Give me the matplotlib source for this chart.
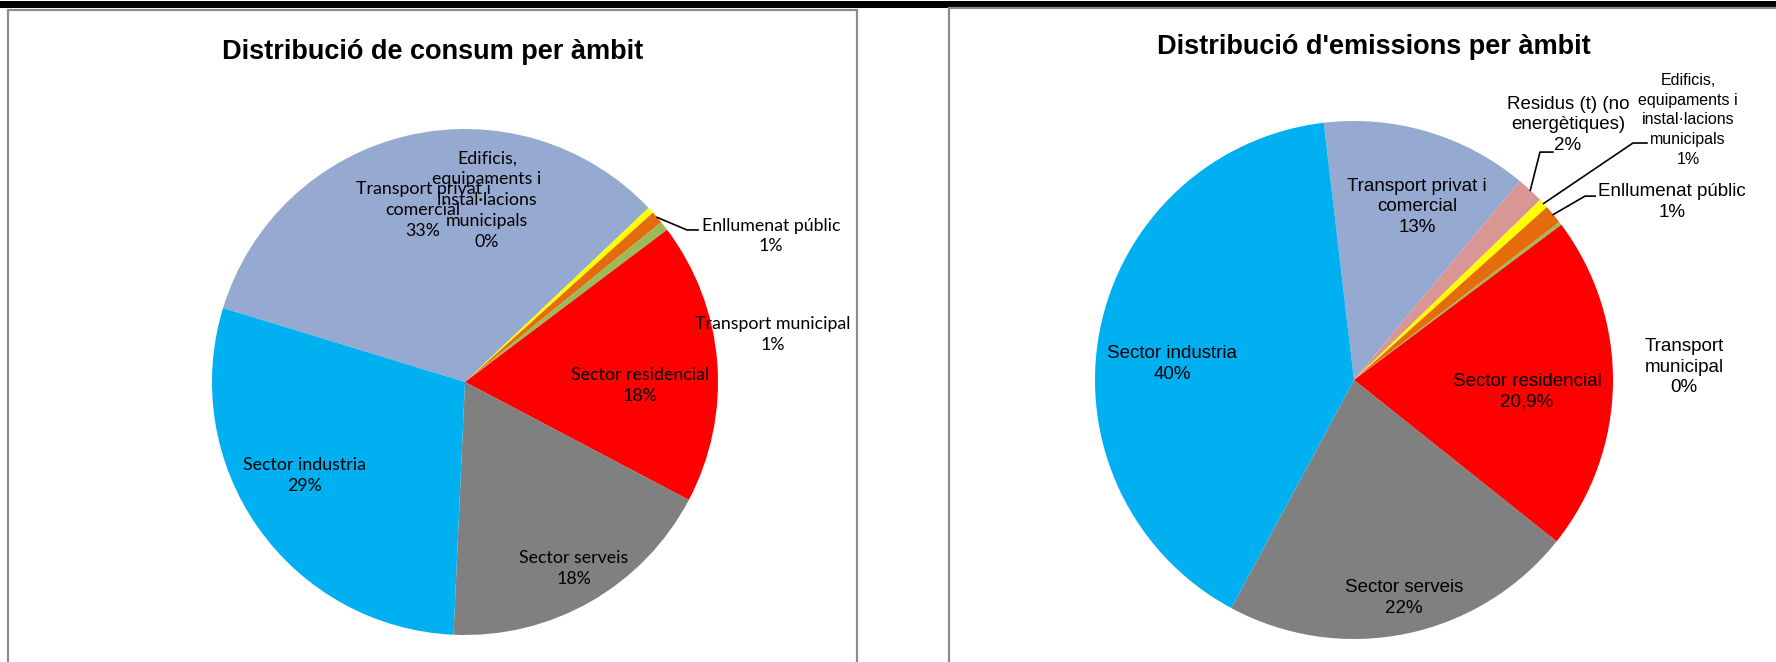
import matplotlib
matplotlib.use("Agg")
import matplotlib.pyplot as plt
import numpy as np
from matplotlib.patches import Rectangle
from matplotlib.lines import Line2D

# canvas in pixels
W, H = 1776, 662

# --- data ---
consum_labels = ["Transport privat i\ncomercial", "Edificis,\nequipaments i\ninstal·lacions\nmunicipals",
                 "Enllumenat públic", "Transport municipal", "Sector residencial",
                 "Sector serveis", "Sector industria"]
consum_values = [33.2, 0.4, 0.8, 0.6, 18.0, 18.0, 29.0]
consum_pct = ["33%", "0%", "1%", "1%", "18%", "18%", "29%"]
consum_colors = ["#95A9D1", "#FFFF00", "#E46C0A", "#9BBB59", "#FF0000", "#808080", "#00B0F0"]

emis_labels = ["Transport privat i\ncomercial", "Residus (t) (no\nenergètiques)",
               "Edificis,\nequipaments i\ninstal·lacions\nmunicipals", "Enllumenat públic",
               "Transport\nmunicipal", "Sector residencial", "Sector serveis", "Sector industria"]
emis_values = [12.9, 1.7, 0.6, 1.2, 0.2, 20.9, 22.1, 40.2]
emis_pct = ["13%", "2%", "1%", "1%", "0%", "20,9%", "22%", "40%"]
emis_colors = ["#95A9D1", "#D99694", "#FFFF00", "#E46C0A", "#9BBB59", "#FF0000", "#808080", "#00B0F0"]

fig = plt.figure(figsize=(W / 100, H / 100), dpi=100)

# page decorations: black rule on top and the two chart frames
fig.add_artist(Rectangle((0, (H - 8) / H), 1, 7 / H, transform=fig.transFigure,
                         facecolor="black", edgecolor="none"))
fig.add_artist(Rectangle((8 / W, -0.05), (857 - 8) / W, (H - 10) / H + 0.05, transform=fig.transFigure,
                         fill=False, edgecolor="#8C8C8C", lw=1.6))
fig.add_artist(Rectangle((949 / W, -0.05), 0.5, (H - 8) / H + 0.05, transform=fig.transFigure,
                         fill=False, edgecolor="#8C8C8C", lw=1.6))


def pie_axes(cx, cy, r):
    return fig.add_axes([(cx - r) / W, (H - cy - r) / H, 2 * r / W, 2 * r / H])


def draw_pie(ax, values, colors, start):
    wedges, _ = ax.pie(values, colors=colors, startangle=start, counterclock=False,
                       radius=1, wedgeprops=dict(linewidth=0))
    ax.set_xlim(-1, 1)
    ax.set_ylim(-1, 1)
    ax.axis("off")
    return wedges


def leader(ax, wedge, bend, tip):
    a = np.deg2rad((wedge.theta1 + wedge.theta2) / 2)
    xs = [np.cos(a), bend[0], tip[0]]
    ys = [np.sin(a), bend[1], tip[1]]
    ax.add_line(Line2D(xs, ys, color="black", lw=1.2, clip_on=False))


# ---- left chart: consum ----
axL = pie_axes(465, 382, 253)
wL = draw_pie(axL, consum_values, consum_colors, 163)
fig.text(433 / W, 1 - 52 / H, "Distribució de consum per àmbit", ha="center", va="center",
         fontsize=19.5, fontweight="bold", family="Liberation Sans")

left_pos = [(-0.166, 0.680), (0.087, 0.719), (1.209, 0.577), (1.217, 0.186),
            (0.692, -0.012), (0.431, -0.739), (-0.636, -0.368)]
for lab, pct, (x, y) in zip(consum_labels, consum_pct, left_pos):
    axL.text(x, y, lab + "\n" + pct, ha="center", va="center", fontsize=12.8,
             family="Lato", linespacing=1.38, color="black")
leader(axL, wL[2], (0.877, 0.601), (0.921, 0.601))

# ---- right chart: emissions ----
axR = pie_axes(1354, 380, 259)
wR = draw_pie(axR, emis_values, emis_colors, 96.7)
fig.text(1374 / W, 1 - 47 / H, "Distribució d'emissions per àmbit", ha="center", va="center",
         fontsize=19.5, fontweight="bold", family="Liberation Sans")

right_pos = [(0.243, 0.668), (0.826, 0.985), (1.290, 1.004), (1.228, 0.687),
             (1.274, 0.050), (0.668, -0.046), (0.193, -0.842), (-0.703, 0.062)]
for i, (lab, pct, (x, y)) in enumerate(zip(emis_labels, emis_pct, right_pos)):
    if i == 2:
        fs, ls = 11.5, 1.38
    else:
        fs, ls = 13.5, 1.25
    axR.text(x, y, lab + "\n" + pct, ha="center", va="center", fontsize=fs,
             family="Liberation Sans", linespacing=ls, color="black")
leader(axR, wR[1], (0.718, 0.880), (0.768, 0.880))
leader(axR, wR[2], (1.077, 0.915), (1.131, 0.915))
leader(axR, wR[3], (0.892, 0.710), (0.931, 0.710))

fig.savefig("out.png", dpi=100)
